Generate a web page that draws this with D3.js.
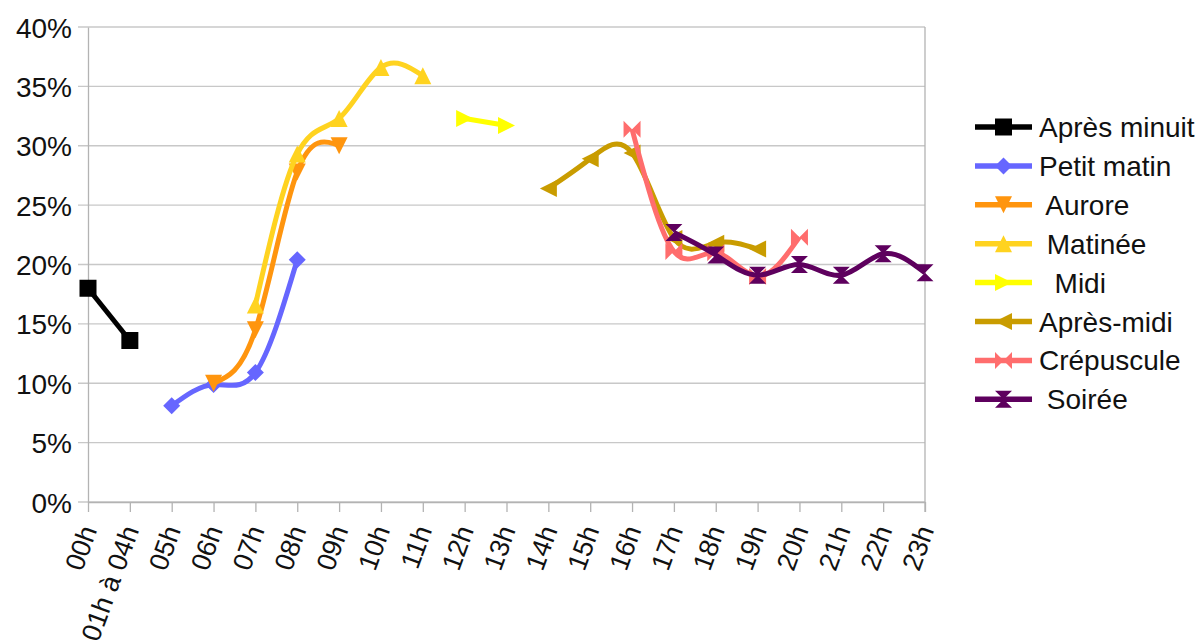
<!DOCTYPE html>
<html>
<head>
<meta charset="utf-8">
<script src="https://cdnjs.cloudflare.com/ajax/libs/d3/7.8.5/d3.min.js"></script>
<style>
  body { margin: 0; background: #fff; }
  svg { font-family: "Liberation Sans", Arial, sans-serif; }
</style>
</head>
<body>
<svg id="chart" width="1204" height="643"></svg>
<script>
var categories = ["00h", "01h à 04h", "05h", "06h", "07h", "08h", "09h", "10h", "11h", "12h", "13h",
    "14h", "15h", "16h", "17h", "18h", "19h", "20h", "21h", "22h", "23h"];
var yTicks = [0, 5, 10, 15, 20, 25, 30, 35, 40];

var seriesNames = ["Après minuit", "Petit matin", " Aurore", " Matinée", "  Midi", "Après-midi", "Crépuscule", " Soirée"];
var seriesColors = ["#000000", "#6666ff", "#ff950e", "#ffd320", "#ffff00", "#c99c00", "#ff6d6d", "#5e005e"];
var seriesSymbols = ["square", "diamond", "down", "up", "right", "left", "bowtie", "hourglass"];

var apresMinuit = [18.0, 13.6];
var petitMatin = [null, null, 8.1, 9.9, 10.9, 20.4];
var aurore = [null, null, null, 10.0, 14.5, 27.8, 30.0];
var matinee = [null, null, null, null, 16.6, 29.3, 32.3, 36.6, 35.9];
var midi = [null, null, null, null, null, null, null, null, null, 32.3, 31.7];
var apresMidi = [null, null, null, null, null, null, null, null, null, null, null, 26.4, 28.9, 29.4, 22.2, 21.8, 21.3];
var crepuscule = [null, null, null, null, null, null, null, null, null, null, null, null, null, 31.4, 21.1, 21.0, 19.0, 22.3];
var soiree = [null, null, null, null, null, null, null, null, null, null, null, null, null, null, 22.7, 20.8, 19.1, 20.0, 19.1, 20.9, 19.3];

var seriesValues = [apresMinuit, petitMatin, aurore, matinee, midi, apresMidi, crepuscule, soiree];

var svg = d3.select("#chart");
var plotLeft = 88, plotRight = 925, plotTop = 27, plotBottom = 502;
var fontFamily = "Liberation Sans, Arial, sans-serif";

var x = d3.scalePoint().domain(categories).range([plotLeft, plotRight]);
var y = d3.scaleLinear().domain([0, 40]).range([plotBottom, plotTop]);

// gridlines
svg.append("g").selectAll("line")
    .data(yTicks)
    .enter()
    .append("line")
    .attr("x1", plotLeft - 10)
    .attr("x2", plotRight)
    .attr("y1", function (d) { return y(d); })
    .attr("y2", function (d) { return y(d); })
    .attr("stroke", "#c8c8c8")
    .attr("stroke-width", 1.3);

// y axis
var yAxis = d3.axisLeft(y).tickValues(yTicks).tickSize(0).tickPadding(16)
    .tickFormat(function (d) { return d + "%"; });
var gy = svg.append("g").attr("transform", "translate(" + plotLeft + ",0)").call(yAxis);
gy.select(".domain").attr("stroke", "#b3b3b3").attr("stroke-width", 1.3);
gy.selectAll("text").attr("font-size", 28).attr("fill", "#111").attr("dy", "0.36em")
    .attr("font-family", fontFamily);

// right border
svg.append("line")
    .attr("x1", plotRight).attr("x2", plotRight).attr("y1", plotTop).attr("y2", plotBottom + 10)
    .attr("stroke", "#b3b3b3").attr("stroke-width", 1.3);

// x axis, labels turned steeply
var xAxis = d3.axisBottom(x).tickSize(10).tickSizeOuter(0).tickPadding(0);
var gx = svg.append("g").attr("transform", "translate(0," + plotBottom + ")").call(xAxis);
gx.select(".domain").attr("stroke", "#b3b3b3").attr("stroke-width", 1.3);
gx.selectAll(".tick line").attr("stroke", "#b3b3b3").attr("stroke-width", 1.3);
gx.selectAll("text")
    .attr("font-size", 27)
    .attr("fill", "#111")
    .attr("font-family", fontFamily)
    .attr("text-anchor", "end")
    .attr("y", 0)
    .attr("dy", 0)
    .attr("transform", "translate(9,28) rotate(-70)");

// symbols
function symbolPath(type, s) {
    var h = s / 2;
    switch (type) {
        case "square": return "M" + (-h) + "," + (-h) + "h" + s + "v" + s + "h" + (-s) + "Z";
        case "diamond": return "M0," + (-h) + "L" + h + ",0L0," + h + "L" + (-h) + ",0Z";
        case "down": return "M" + (-h) + "," + (-h) + "L" + h + "," + (-h) + "L0," + h + "Z";
        case "up": return "M" + (-h) + "," + h + "L" + h + "," + h + "L0," + (-h) + "Z";
        case "right": return "M" + (-h) + "," + (-h) + "L" + h + ",0L" + (-h) + "," + h + "Z";
        case "left": return "M" + h + "," + (-h) + "L" + (-h) + ",0L" + h + "," + h + "Z";
        case "bowtie": return "M" + (-h) + "," + (-h) + "L0,0L" + h + "," + (-h) + "L" + h + "," + h + "L0,0L" + (-h) + "," + h + "Z";
        case "hourglass": return "M" + (-h) + "," + (-h) + "L" + h + "," + (-h) + "L0,0L" + h + "," + h + "L" + (-h) + "," + h + "L0,0Z";
    }
}

var line = d3.line()
    .defined(function (d) { return d != null; })
    .x(function (d, i) { return x(categories[i]); })
    .y(function (d) { return y(d); })
    .curve(d3.curveNatural);

var lineStraight = d3.line()
    .defined(function (d) { return d != null; })
    .x(function (d, i) { return x(categories[i]); })
    .y(function (d) { return y(d); });

seriesValues.forEach(function (vals, k) {
    var g = svg.append("g");
    g.append("path")
        .attr("d", k === 0 ? lineStraight(vals) : line(vals))
        .attr("fill", "none")
        .attr("stroke", seriesColors[k])
        .attr("stroke-width", 5)
        .attr("stroke-linejoin", "round");
    g.selectAll("path.mk")
        .data(vals.map(function (v, i) { return { v: v, i: i }; }).filter(function (d) { return d.v != null; }))
        .enter()
        .append("path")
        .attr("class", "mk")
        .attr("transform", function (d) { return "translate(" + x(categories[d.i]) + "," + y(d.v) + ")"; })
        .attr("d", symbolPath(seriesSymbols[k], 17))
        .attr("fill", seriesColors[k]);
});

// legend
var legend = svg.append("g").selectAll("g")
    .data(seriesNames)
    .enter()
    .append("g")
    .attr("transform", function (d, i) { return "translate(975," + (127 + i * 38.9) + ")"; });
legend.append("line")
    .attr("x1", 0).attr("x2", 57)
    .attr("stroke", function (d, i) { return seriesColors[i]; })
    .attr("stroke-width", 5.5);
legend.append("path")
    .attr("transform", "translate(28.5,0)")
    .attr("d", function (d, i) { return symbolPath(seriesSymbols[i], 17); })
    .attr("fill", function (d, i) { return seriesColors[i]; });
legend.append("text")
    .attr("x", 64)
    .attr("dy", "0.36em")
    .attr("font-size", 28)
    .attr("fill", "#111")
    .attr("font-family", fontFamily)
    .style("white-space", "pre")
    .text(function (d) { return d; });
</script>
</body>
</html>
